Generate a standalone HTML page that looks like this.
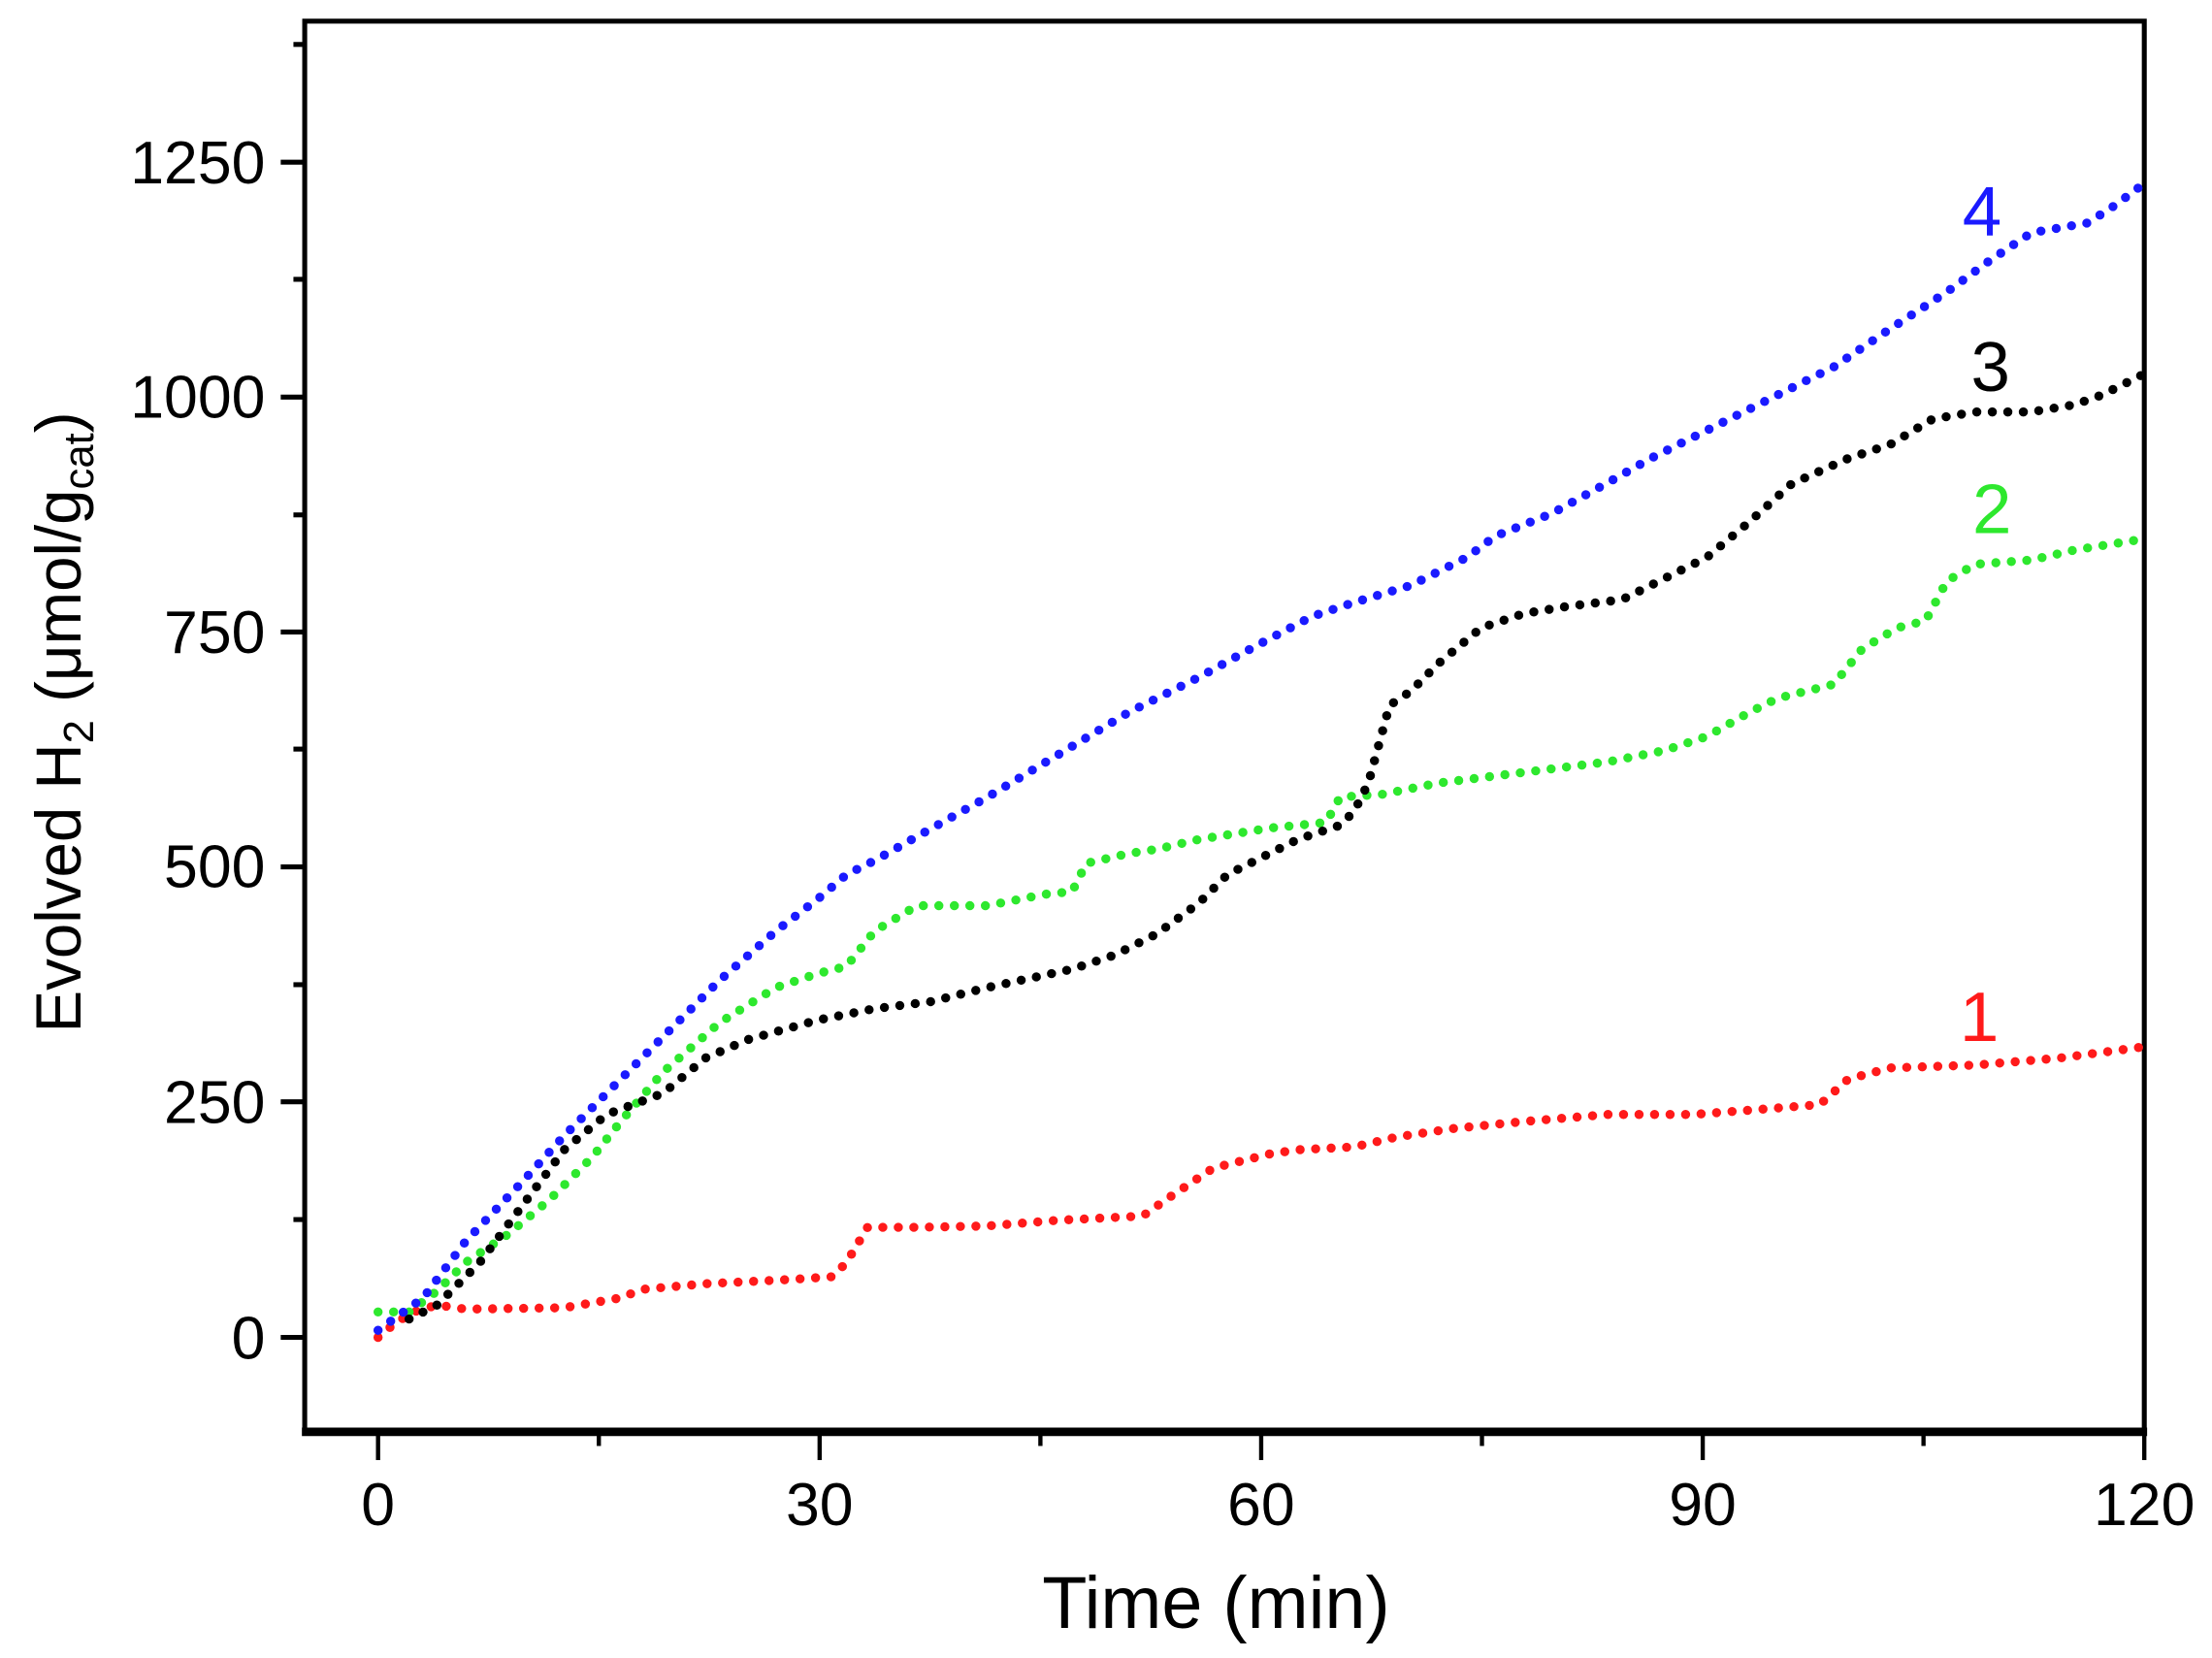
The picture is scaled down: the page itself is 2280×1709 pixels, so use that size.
<!DOCTYPE html>
<html><head><meta charset="utf-8"><style>html,body{margin:0;padding:0;background:#fff}svg{display:block}</style></head>
<body>
<svg width="2280" height="1709" viewBox="0 0 1568 1175.3" preserveAspectRatio="none" xmlns="http://www.w3.org/2000/svg" font-family="Liberation Sans, Arial, sans-serif">
<rect x="0" y="0" width="1568" height="1176" fill="#fff"/>
<rect x="216" y="15" width="1304" height="1000" fill="none" stroke="#000" stroke-width="3.5"/>
<line x1="214" y1="1015" x2="1522" y2="1015" stroke="#000" stroke-width="6"/>
<g stroke="#000" stroke-width="3">
<line x1="268" y1="1015" x2="268" y2="1035"/><line x1="581" y1="1015" x2="581" y2="1035"/><line x1="894" y1="1015" x2="894" y2="1035"/><line x1="1207" y1="1015" x2="1207" y2="1035"/><line x1="1520" y1="1015" x2="1520" y2="1035"/>
<line x1="424.5" y1="1015" x2="424.5" y2="1025"/><line x1="737.5" y1="1015" x2="737.5" y2="1025"/><line x1="1050.5" y1="1015" x2="1050.5" y2="1025"/><line x1="1363.5" y1="1015" x2="1363.5" y2="1025"/>
</g>
<g stroke="#000" stroke-width="3.5">
<line x1="216" y1="948" x2="199" y2="948"/><line x1="216" y1="781" x2="199" y2="781"/><line x1="216" y1="614.5" x2="199" y2="614.5"/><line x1="216" y1="448" x2="199" y2="448"/><line x1="216" y1="281.5" x2="199" y2="281.5"/><line x1="216" y1="115" x2="199" y2="115"/>
<line x1="216" y1="864.5" x2="208" y2="864.5"/><line x1="216" y1="698" x2="208" y2="698"/><line x1="216" y1="531" x2="208" y2="531"/><line x1="216" y1="365" x2="208" y2="365"/><line x1="216" y1="198" x2="208" y2="198"/><line x1="216" y1="31.5" x2="208" y2="31.5"/>
</g>
<g font-size="43" fill="#000">
<g text-anchor="middle">
<text x="268" y="1081">0</text><text x="581" y="1081">30</text><text x="894" y="1081">60</text><text x="1207" y="1081">90</text><text x="1520" y="1081">120</text>
</g>
<g text-anchor="end">
<text x="188" y="963">0</text><text x="188" y="796">250</text><text x="188" y="629">500</text><text x="188" y="463">750</text><text x="188" y="296">1000</text><text x="188" y="130">1250</text>
</g>
</g>
<text x="862" y="1154" font-size="52" text-anchor="middle">Time (min)</text>
<text transform="translate(57,512) rotate(-90)" font-size="45" text-anchor="middle">Evolved H<tspan font-size="30" dy="9">2</tspan><tspan dy="-9"> (μmol/g</tspan><tspan font-size="30" dy="9">cat</tspan><tspan dy="-9">)</tspan></text>
<g fill="none" stroke-width="6.5" stroke-linecap="round" stroke-dasharray="0 11">
<polyline stroke="#ff1a1a" points="268,948 280,938 293,930 310,925 330,928 400,927 440,920 455,914 500,910 560,907 590,905 600,895 615,870 650,870 700,869 750,865 810,862 820,855 830,848 860,828 900,818 920,815 960,813 990,806 1030,800 1080,795 1140,790 1200,790 1240,787 1290,783 1310,765 1340,757 1400,755 1460,750 1520,742"/>
<polyline stroke="#2ee82e" points="268,930 290,930 310,915 330,895 360,875 390,850 420,820 440,795 470,760 510,725 550,700 580,690 600,685 620,660 650,642 700,642 740,634 760,632 770,612 800,605 820,602 850,595 900,587 940,583 950,565 980,563 1020,555 1060,550 1100,545 1140,540 1180,532 1210,522 1240,505 1260,495 1300,485 1320,460 1345,445 1365,440 1380,412 1400,400 1440,397 1470,390 1520,382"/>
<polyline stroke="#000" points="290,935 310,925 340,895 370,855 400,815 430,790 470,775 500,750 530,737 580,723 620,715 660,710 700,700 760,687 790,677 820,662 850,640 870,620 890,610 920,595 950,585 960,575 970,555 985,500 1000,490 1020,470 1050,445 1080,435 1110,430 1150,425 1180,410 1210,395 1240,370 1270,343 1310,325 1340,315 1370,297 1400,292 1440,292 1470,287 1490,280 1520,265"/>
<polyline stroke="#1a1aff" points="268,943 300,920 330,880 370,838 400,805 430,775 470,735 510,695 550,660 580,637 600,620 620,610 650,593 700,565 750,535 800,505 850,480 890,458 930,437 960,427 1000,415 1040,395 1060,380 1100,364 1140,342 1170,325 1210,305 1250,285 1270,275 1300,260 1340,233 1380,207 1410,185 1440,165 1480,158 1500,145 1520,130"/>
</g>
<g font-size="50" text-anchor="middle">
<text x="1405" y="167" fill="#1a1aff">4</text>
<text x="1411" y="277" fill="#000">3</text>
<text x="1412" y="378" fill="#2ee82e">2</text>
<text x="1403" y="738" fill="#ff1a1a">1</text>
</g>
</svg>
</body></html>
